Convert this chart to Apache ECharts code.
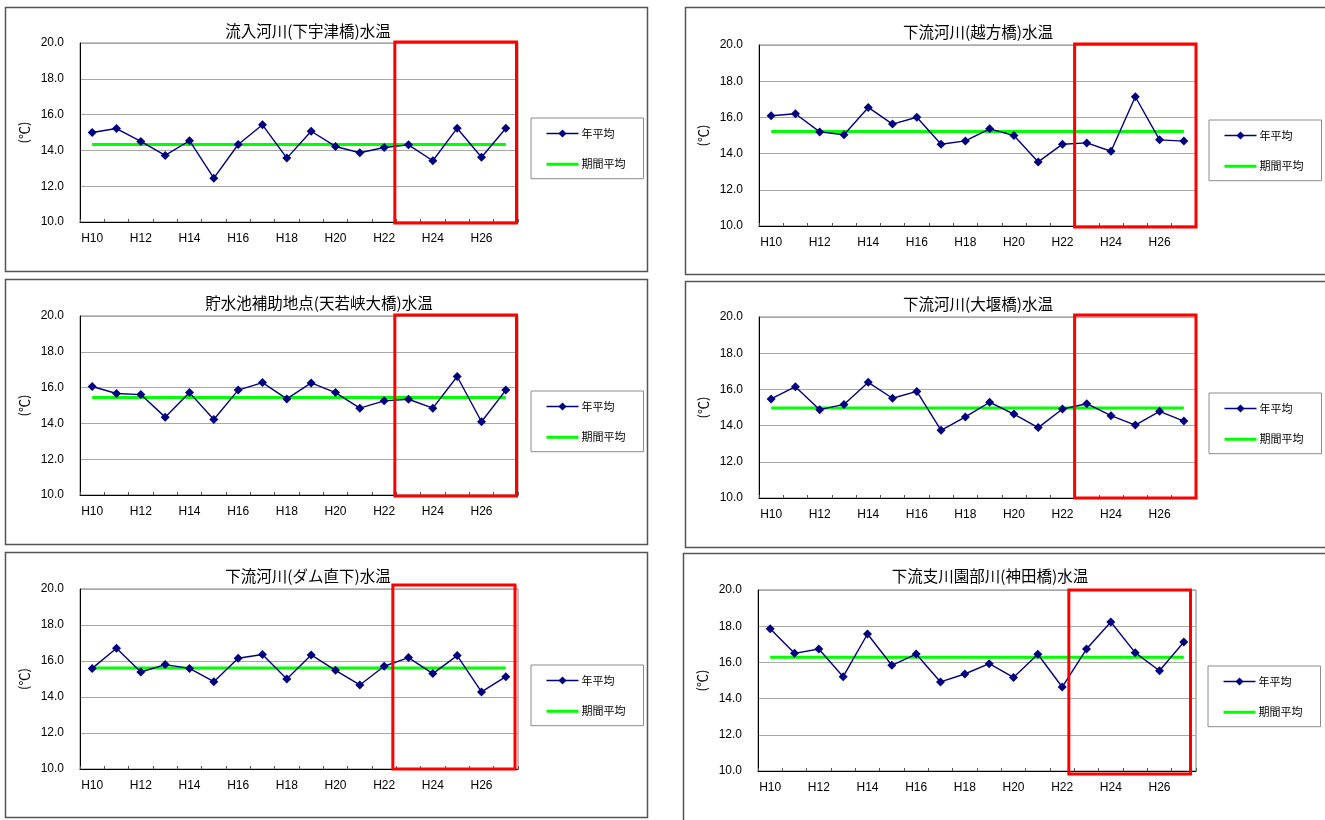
<!DOCTYPE html>
<html lang="ja">
<head>
<meta charset="utf-8">
<title>水温の経年変化</title>
<script src="https://cdn.jsdelivr.net/npm/echarts@6/dist/echarts.min.js"></script>
<style>
  html, body { margin: 0; padding: 0; background: #ffffff; }
  #chart { width: 1325px; height: 820px; }
</style>
</head>
<body>
<div id="chart"></div>
<script>
// ---- data ----------------------------------------------------------------
const years = ['H10', 'H11', 'H12', 'H13', 'H14', 'H15', 'H16', 'H17', 'H18',
               'H19', 'H20', 'H21', 'H22', 'H23', 'H24', 'H25', 'H26', 'H27'];

// 年平均水温 (℃)
const shimoUzuBashi   = [15.00, 15.22, 14.50, 13.72, 14.54, 12.45, 14.33, 15.43, 13.57, 15.07, 14.22, 13.87, 14.16, 14.31, 13.42, 15.24, 13.62, 15.24];
const koshikataBashi  = [16.09, 16.20, 15.20, 15.04, 16.55, 15.63, 16.01, 14.52, 14.70, 15.37, 15.00, 13.54, 14.52, 14.59, 14.13, 17.14, 14.76, 14.69];
const amawakakyoOhashi = [16.06, 15.67, 15.61, 14.35, 15.72, 14.22, 15.86, 16.28, 15.37, 16.26, 15.72, 14.85, 15.26, 15.35, 14.85, 16.62, 14.09, 15.86];
const ozekiBashi      = [15.47, 16.15, 14.88, 15.17, 16.39, 15.51, 15.89, 13.74, 14.48, 15.29, 14.64, 13.89, 14.92, 15.21, 14.55, 14.03, 14.79, 14.25];
const damChokka       = [15.59, 16.71, 15.39, 15.80, 15.59, 14.85, 16.15, 16.36, 15.00, 16.34, 15.48, 14.67, 15.71, 16.19, 15.30, 16.30, 14.28, 15.13];
const kandaBashi      = [17.86, 16.50, 16.74, 15.21, 17.57, 15.84, 16.46, 14.92, 15.36, 15.93, 15.17, 16.45, 14.64, 16.74, 18.23, 16.54, 15.54, 17.13];

// 期間平均 (℃), one value per station
const periodAverages = [14.33, 15.22, 15.45, 14.97, 15.61, 16.28];

const chartTitles = [
  '流入河川(下宇津橋)水温',
  '下流河川(越方橋)水温',
  '貯水池補助地点(天若峡大橋)水温',
  '下流河川(大堰橋)水温',
  '下流河川(ダム直下)水温',
  '下流支川園部川(神田橋)水温'
];

const seriesNames = ['年平均', '期間平均'];
const yAxisName = '(℃)';
const yMin = 10, yMax = 20, yStep = 2;
const highlightYears = ['H23', 'H27'];   // recent period framed in red

const annualSeries = [shimoUzuBashi, koshikataBashi, amawakakyoOhashi, ozekiBashi, damChokka, kandaBashi];

// ---- layout (pixels) ----------------------------------------------------
// redNudge: hand-drawn frame offsets [left, right, top, bottom]
const panelLayout = [
  { frame: [5, 7, 642, 264],    grid: [80, 43, 438, 179],   titleAt: [308, 31],  legendAt: [531, 118], redNudge: [-1.5, -1.5, -1, 1] },
  { frame: [685, 7, 660, 267],  grid: [759, 45, 437, 181],  titleAt: [978, 32],  legendAt: [1209, 120], redNudge: [0, 0, -1, 1] },
  { frame: [5, 279, 642, 265],  grid: [80, 316, 438, 179],  titleAt: [319, 303], legendAt: [531, 391], redNudge: [-1.5, -1.5, -1, 1] },
  { frame: [685, 281, 660, 266], grid: [759, 317, 437, 181], titleAt: [978, 304], legendAt: [1209, 393], redNudge: [0, 0, -2, 0] },
  { frame: [5, 552, 642, 265],  grid: [80, 589, 438, 180],  titleAt: [308, 576], legendAt: [531, 665], redNudge: [-3.5, -3, -4, 0] },
  { frame: [683, 553, 660, 280], grid: [758, 590, 438, 181], titleAt: [990, 576], legendAt: [1208, 666], redNudge: [-5.5, -5.5, 0, 3] }
];

const LATIN = "'Liberation Sans', Arial, 'Noto Sans CJK JP', sans-serif";
const CJK = "'Noto Sans CJK JP', 'Liberation Sans', sans-serif";
const NAVY = '#000080';
const GREEN = '#00ff00';

// ---- option -------------------------------------------------------------
const option = {
  animation: false,
  backgroundColor: '#ffffff',
  title: [], legend: [], grid: [], xAxis: [], yAxis: [], series: []
};

panelLayout.forEach((p, i) => {
  option.title.push({
    text: chartTitles[i],
    left: p.titleAt[0], top: p.titleAt[1],
    textAlign: 'center', textVerticalAlign: 'middle',
    padding: 0,
    textStyle: { fontFamily: CJK, fontSize: 15.5, fontWeight: 'normal', color: '#000000' }
  });

  option.grid.push({
    left: p.grid[0], top: p.grid[1], width: p.grid[2], height: p.grid[3],
    containLabel: false, outerBoundsMode: 'none',
    show: true, borderColor: '#808080', borderWidth: 1, backgroundColor: '#ffffff'
  });

  option.xAxis.push({
    type: 'category', gridIndex: i, data: years, boundaryGap: true,
    axisLine: { show: true, lineStyle: { color: '#000000', width: 1 } },
    axisTick: { show: true, inside: true, length: 3, interval: 0, lineStyle: { color: '#555555' } },
    axisLabel: { interval: 1, margin: 11, color: '#000000', fontFamily: LATIN, fontSize: 12 },
    splitLine: { show: false }
  });

  option.yAxis.push({
    type: 'value', gridIndex: i, min: yMin, max: yMax, interval: yStep,
    name: yAxisName, nameLocation: 'middle', nameRotate: 90, nameGap: 49,
    nameTextStyle: { fontFamily: CJK, fontSize: 13, color: '#000000' },
    axisLine: { show: true, lineStyle: { color: '#000000', width: 1 } },
    axisTick: { show: false },
    axisLabel: { margin: 16, color: '#000000', fontFamily: LATIN, fontSize: 12,
                 formatter: v => v.toFixed(1) },
    splitLine: { show: true, lineStyle: { color: '#a8a8a8', width: 1 } }
  });

  option.series.push({
    name: seriesNames[1], type: 'line', xAxisIndex: i, yAxisIndex: i,
    data: years.map(() => periodAverages[i]),
    symbol: 'none', z: 2,
    lineStyle: { color: GREEN, width: 3 }, itemStyle: { color: GREEN }
  });
  option.series.push({
    name: seriesNames[0], type: 'line', xAxisIndex: i, yAxisIndex: i,
    data: annualSeries[i],
    symbol: 'diamond', symbolSize: 9, z: 3,
    lineStyle: { color: NAVY, width: 1.4 }, itemStyle: { color: NAVY }
  });

  option.legend.push({
    orient: 'vertical', left: p.legendAt[0], top: p.legendAt[1],
    padding: [10, 18, 9, 14], itemWidth: 32, itemHeight: 10, itemGap: 19.7,
    borderColor: '#8c8c8c', borderWidth: 1, backgroundColor: '#ffffff',
    selectedMode: false,
    textStyle: { fontFamily: CJK, fontSize: 11, color: '#000000', padding: [0, 0, 0, -2] },
    data: [
      { name: seriesNames[0], lineStyle: { width: 1.4 } },
      { name: seriesNames[1], lineStyle: { width: 3 }, itemStyle: { opacity: 0 } }
    ]
  });
});

const chart = echarts.init(document.getElementById('chart'), null, { renderer: 'canvas' });
chart.setOption(option);

// ---- panel frames and highlighted period --------------------------------
const graphics = [];
panelLayout.forEach((p, i) => {
  graphics.push({
    type: 'rect', z: -10, silent: true,
    shape: { x: p.frame[0] + 0.5, y: p.frame[1] + 0.5, width: p.frame[2], height: p.frame[3] },
    style: { fill: 'none', stroke: '#555555', lineWidth: 1.5 }
  });

  const x0 = chart.convertToPixel({ xAxisIndex: i }, highlightYears[0]);
  const x1 = chart.convertToPixel({ xAxisIndex: i }, highlightYears[1]);
  const band = chart.convertToPixel({ xAxisIndex: i }, years[1]) -
               chart.convertToPixel({ xAxisIndex: i }, years[0]);
  const yTop = chart.convertToPixel({ yAxisIndex: i }, yMax);
  const yBottom = chart.convertToPixel({ yAxisIndex: i }, yMin);
  const n = p.redNudge;
  const left = x0 - band / 2 + n[0];
  const right = x1 + band / 2 + n[1];
  const top = yTop + n[2];
  const bottom = yBottom + n[3];
  graphics.push({
    type: 'rect', z: 100, silent: true,
    shape: { x: left, y: top, width: right - left, height: bottom - top },
    style: { fill: 'none', stroke: '#ff0000', lineWidth: 3 }
  });
});
chart.setOption({ graphic: graphics });
</script>
</body>
</html>
